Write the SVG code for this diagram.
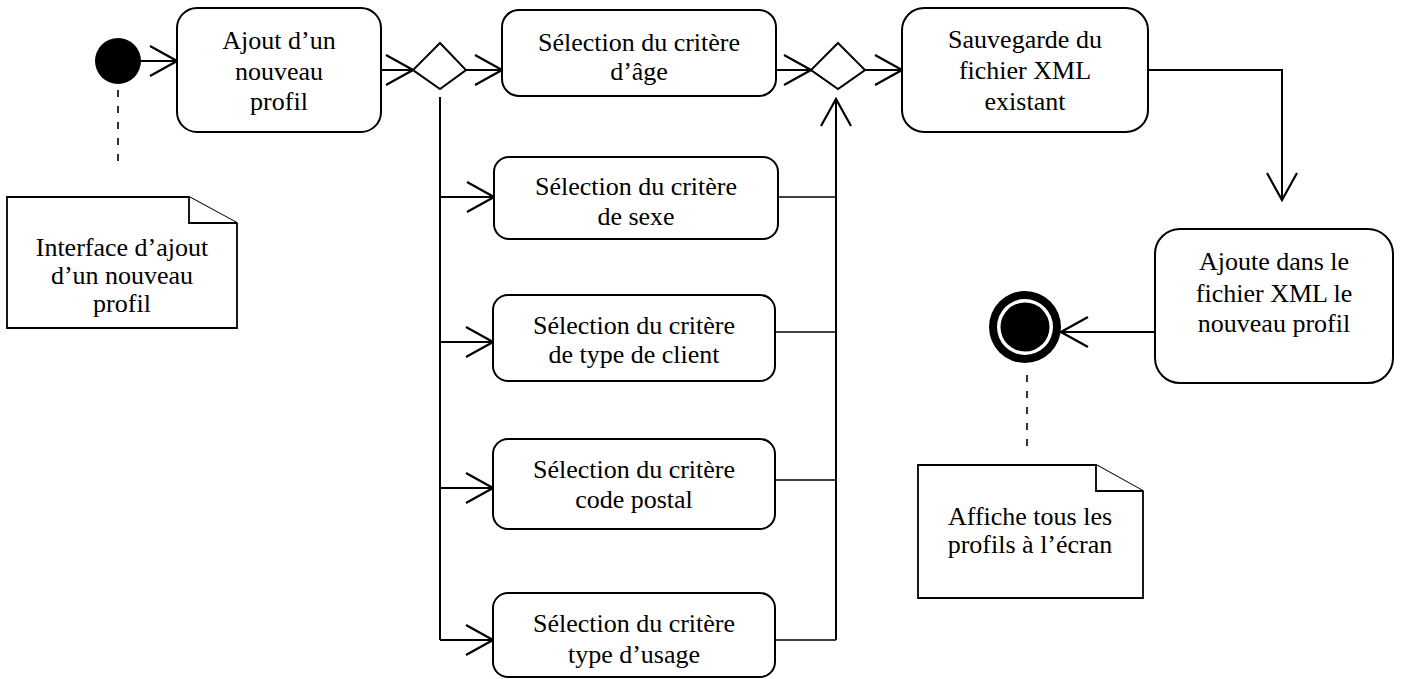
<svg xmlns="http://www.w3.org/2000/svg" width="1411" height="679" viewBox="0 0 1411 679">
<style>
  .box { fill: #fff; stroke: #000; stroke-width: 2; }
  .note { fill: #fff; stroke: #000; stroke-width: 1.8; }
  .t { font-family: "Liberation Serif", "Times New Roman", serif; font-size: 26px; fill: #000; text-anchor: middle; }
  .c { fill: none; stroke: #000; stroke-width: 2; }
  .thin { fill: none; stroke: #000; stroke-width: 1.5; }
  .dash { fill: none; stroke: #000; stroke-width: 1.6; stroke-dasharray: 7 9; }
</style>
<defs>
  <marker id="arr" viewBox="-29 -17 31 34" markerWidth="31" markerHeight="34" refX="0" refY="0" orient="auto" markerUnits="userSpaceOnUse">
    <path d="M-27,-15 L0,0 L-27,15" fill="none" stroke="#000" stroke-width="2.2"/>
  </marker>
</defs>
<rect width="1411" height="679" fill="#fff"/>

<g id="connectors">
  <path class="c" d="M141,61 H177" marker-end="url(#arr)"/>
  <path class="c" d="M381,70 H413" marker-end="url(#arr)"/>
  <path class="c" d="M466,70 H502" marker-end="url(#arr)"/>
  <path class="c" d="M776,70 H811" marker-end="url(#arr)"/>
  <path class="c" d="M865,70 H902" marker-end="url(#arr)"/>
  <path class="c" d="M440,97 V640"/>
  <path class="c" d="M440,197 H494" marker-end="url(#arr)"/>
  <path class="c" d="M440,342 H493" marker-end="url(#arr)"/>
  <path class="c" d="M440,488 H493" marker-end="url(#arr)"/>
  <path class="c" d="M440,640 H493" marker-end="url(#arr)"/>
  <path class="thin" d="M778,197 H836"/>
  <path class="thin" d="M775,332 H836"/>
  <path class="thin" d="M775,480 H836"/>
  <path class="thin" d="M775,640 H836"/>
  <path class="c" d="M836,640 V99" marker-end="url(#arr)"/>
  <path class="c" d="M1148,70 H1282 V200" marker-end="url(#arr)"/>
  <path class="c" d="M1155,332 H1061" marker-end="url(#arr)"/>
  <path class="dash" d="M118,90 V167"/>
  <path class="dash" d="M1027,375 V453"/>
</g>

<g id="initial">
  <circle cx="118" cy="61" r="23" fill="#000"/>
</g>

<g id="ajout">
  <rect class="box" x="177" y="8" width="204" height="124" rx="20"/>
  <text class="t" x="279" y="49">Ajout d’un</text>
  <text class="t" x="279" y="80">nouveau</text>
  <text class="t" x="279" y="110">profil</text>
</g>

<g id="decision1">
  <polygon class="box" points="440,43 466,70 440,89 413,70"/>
</g>

<g id="age">
  <rect class="box" x="502" y="10" width="274" height="86" rx="17"/>
  <text class="t" x="639" y="51">Sélection du critère</text>
  <text class="t" x="639" y="80">d’âge</text>
</g>

<g id="decision2">
  <polygon class="box" points="838,43 865,70 838,89 811,70"/>
</g>

<g id="sauvegarde">
  <rect class="box" x="902" y="8" width="246" height="124" rx="22"/>
  <text class="t" x="1025" y="48">Sauvegarde du</text>
  <text class="t" x="1025" y="79">fichier XML</text>
  <text class="t" x="1025" y="110">existant</text>
</g>

<g id="sexe">
  <rect class="box" x="494" y="157" width="284" height="82" rx="15"/>
  <text class="t" x="636" y="195">Sélection du critère</text>
  <text class="t" x="636" y="225">de sexe</text>
</g>

<g id="client">
  <rect class="box" x="493" y="295" width="282" height="86" rx="15"/>
  <text class="t" x="634" y="334">Sélection du critère</text>
  <text class="t" x="634" y="363">de type de client</text>
</g>

<g id="postal">
  <rect class="box" x="493" y="439" width="282" height="90" rx="15"/>
  <text class="t" x="634" y="478">Sélection du critère</text>
  <text class="t" x="634" y="508">code postal</text>
</g>

<g id="usage">
  <rect class="box" x="493" y="593" width="282" height="84" rx="15"/>
  <text class="t" x="634" y="632">Sélection du critère</text>
  <text class="t" x="634" y="663">type d’usage</text>
</g>

<g id="ajoute">
  <rect class="box" x="1155" y="229" width="238" height="154" rx="25"/>
  <text class="t" x="1274" y="270">Ajoute dans le</text>
  <text class="t" x="1274" y="302">fichier XML le</text>
  <text class="t" x="1274" y="332">nouveau profil</text>
</g>

<g id="final">
  <circle cx="1025" cy="327" r="36" fill="#000"/>
  <circle cx="1025" cy="327" r="28" fill="#fff"/>
  <circle cx="1025" cy="327" r="24.5" fill="#000"/>
</g>

<g id="note1">
  <path class="note" d="M7,197 H189 L237,223 V328 H7 Z"/>
  <path class="note" d="M189,197 V223 H237"/>
  <text class="t" x="122" y="256">Interface d’ajout</text>
  <text class="t" x="122" y="284">d’un nouveau</text>
  <text class="t" x="122" y="312">profil</text>
</g>

<g id="note2">
  <path class="note" d="M918,465 H1096 L1143,491 V598 H918 Z"/>
  <path class="note" d="M1096,465 V491 H1143"/>
  <text class="t" x="1030" y="525">Affiche tous les</text>
  <text class="t" x="1030" y="553">profils à l’écran</text>
</g>
</svg>
